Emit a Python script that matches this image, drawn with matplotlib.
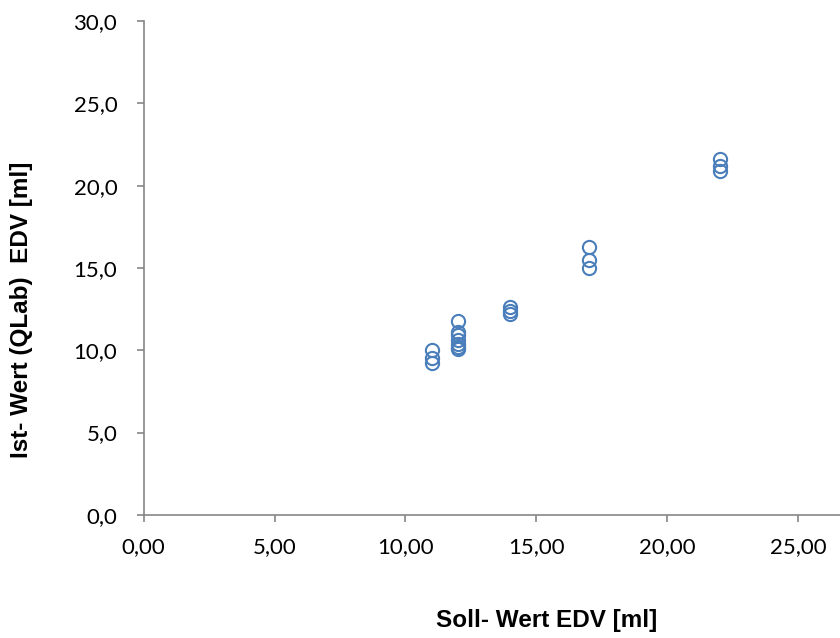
import matplotlib
matplotlib.use("Agg")
import matplotlib.pyplot as plt
from matplotlib.ticker import FuncFormatter

plt.rcParams["font.family"] = ["Lato", "DejaVu Sans"]

# Soll- vs. Ist-Werte EDV (ml)
soll = [11, 11, 11,
        12, 12, 12, 12, 12, 12, 12,
        14, 14, 14,
        17, 17, 17,
        22, 22, 22]
ist = [10.0, 9.5, 9.2,
       11.8, 11.1, 10.9, 10.6, 10.4, 10.2, 10.1,
       12.6, 12.4, 12.2,
       16.3, 15.5, 15.0,
       21.6, 21.2, 20.9]

x_ticks = [0, 5, 10, 15, 20, 25]
y_ticks = [0, 5, 10, 15, 20, 25, 30]

fig = plt.figure(figsize=(8.4, 6.38), dpi=100)
ax = fig.add_axes([0.171, 0.193, 0.829, 0.774])

ax.plot(soll, ist, linestyle="none", marker="o", markersize=9.5,
        markerfacecolor="none", markeredgecolor="#4a7ebb", markeredgewidth=1.5)

ax.set_xlim(0, 26.6)
ax.set_ylim(0, 30)
ax.set_xticks(x_ticks)
ax.set_yticks(y_ticks)
ax.xaxis.set_major_formatter(FuncFormatter(lambda v, p: f"{v:.2f}".replace(".", ",")))
ax.yaxis.set_major_formatter(FuncFormatter(lambda v, p: f"{v:.1f}".replace(".", ",")))

for side in ("top", "right"):
    ax.spines[side].set_visible(False)
for side in ("left", "bottom"):
    ax.spines[side].set_color("#868686")
    ax.spines[side].set_linewidth(1.2)
ax.tick_params(direction="out", length=5, width=1.2, color="#868686",
               labelsize=16, labelcolor="#000000")
ax.tick_params(axis="x", pad=11)
ax.tick_params(axis="y", pad=14)

label_font = dict(family=["Liberation Sans", "DejaVu Sans"], fontsize=17.5,
                  fontweight="bold")
fig.text(0.651, 0.028, "Soll- Wert EDV [ml]", ha="center", va="center", **label_font)
fig.text(0.026, 0.514, "Ist- Wert (QLab)  EDV [ml]", ha="center", va="center",
         rotation=90, **label_font)

fig.savefig("out.png", dpi=100)
